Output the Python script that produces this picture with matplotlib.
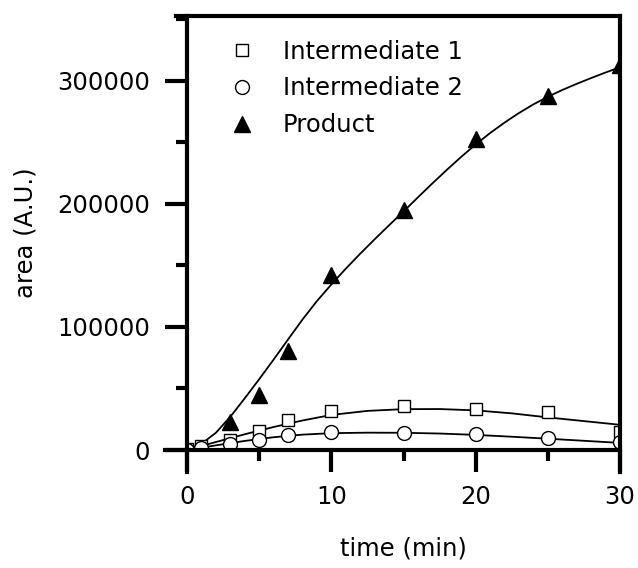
import matplotlib
matplotlib.use('Agg')
import matplotlib.pyplot as plt
from matplotlib.ticker import MultipleLocator

# measured peak areas
time_pts = [0, 1, 3, 5, 7, 10, 15, 20, 25, 30]
inter1 = [500, 3500, 8000, 15700, 24400, 32000, 36000, 33100, 31100, 14900]
inter2 = [0, 1500, 4600, 8100, 12200, 14900, 14100, 12700, 9500, 6700]

prod_time = [3, 5, 7, 10, 15, 20, 25, 30]
product = [23000, 44700, 80700, 142300, 195100, 252600, 287800, 313000]

# fitted trend lines
fit_time = [0, 2, 4, 6, 8, 10, 12.5, 15, 17.5, 20, 22.5, 25, 27.5, 30]
inter1_fit = [0, 6500, 12800, 18700, 24000, 28500, 31800, 33200, 33300, 32200,
              29800, 26500, 23500, 20500]
inter2_fit = [0, 3800, 7400, 10400, 12500, 13700, 14100, 14000, 13400, 12300,
              10800, 9200, 7500, 5800]

prod_fit_time = list(range(0, 31))
prod_fit = [0, 5000, 14000, 27000, 42000, 57500, 73500, 89800, 106000, 121000,
            134500, 147300, 159500, 171200, 182600, 193800, 205300, 216600,
            227600, 238200, 248200, 257500, 266000, 273800, 280800, 287000,
            292500, 297500, 302200, 306700, 311000]

plt.rcParams['font.family'] = 'DejaVu Sans'
fs = 17.5

fig = plt.figure(figsize=(6.38, 5.68), dpi=100)
ax = fig.add_axes([0.2931, 0.2077, 0.9718 - 0.2931, 0.9727 - 0.2077])

lw_fit = 1.3
ax.plot(fit_time, inter1_fit, color='black', lw=lw_fit)
ax.plot(fit_time, inter2_fit, color='black', lw=lw_fit)
ax.plot(prod_fit_time, prod_fit, color='black', lw=lw_fit)

ax.plot(time_pts, inter1, ls='none', marker='s', ms=9, mfc='white',
        mec='black', mew=1.0, label='Intermediate 1')
ax.plot(time_pts, inter2, ls='none', marker='o', ms=10, mfc='white',
        mec='black', mew=1.0, label='Intermediate 2')
ax.plot(prod_time, product, ls='none', marker='^', ms=12, mfc='black',
        mec='black', mew=1.0, label='Product')

ax.set_xlim(0, 30)
ax.set_ylim(0, 353000)

ax.xaxis.set_major_locator(MultipleLocator(10))
ax.xaxis.set_minor_locator(MultipleLocator(5))
ax.yaxis.set_major_locator(MultipleLocator(100000))
ax.yaxis.set_minor_locator(MultipleLocator(50000))

for s in ax.spines.values():
    s.set_linewidth(3)
# axis lines run on past the corners like the tick marks do
ax.spines['left'].set_bounds(-17900, 353000)
ax.spines['right'].set_bounds(-17900, 353000)
ax.spines['bottom'].set_bounds(-1.52, 30)
ax.spines['top'].set_bounds(-0.76, 30)

ax.tick_params(which='major', direction='out', length=16, width=3,
               labelsize=fs)
ax.tick_params(which='minor', direction='out', length=8, width=3)
ax.tick_params(axis='x', which='major', pad=9)
ax.tick_params(axis='y', which='major', pad=10.5)
ax.tick_params(top=False, right=False, which='both')

ax.set_xlabel('time (min)', fontsize=fs, labelpad=20)
ax.set_ylabel('area (A.U.)', fontsize=fs, labelpad=14)

leg = ax.legend(loc='upper left', bbox_to_anchor=(0.076, 0.967), frameon=False,
                fontsize=fs, handlelength=1.0, handletextpad=1.2,
                labelspacing=0.53, borderaxespad=0)

fig.savefig('out.png', dpi=100)
